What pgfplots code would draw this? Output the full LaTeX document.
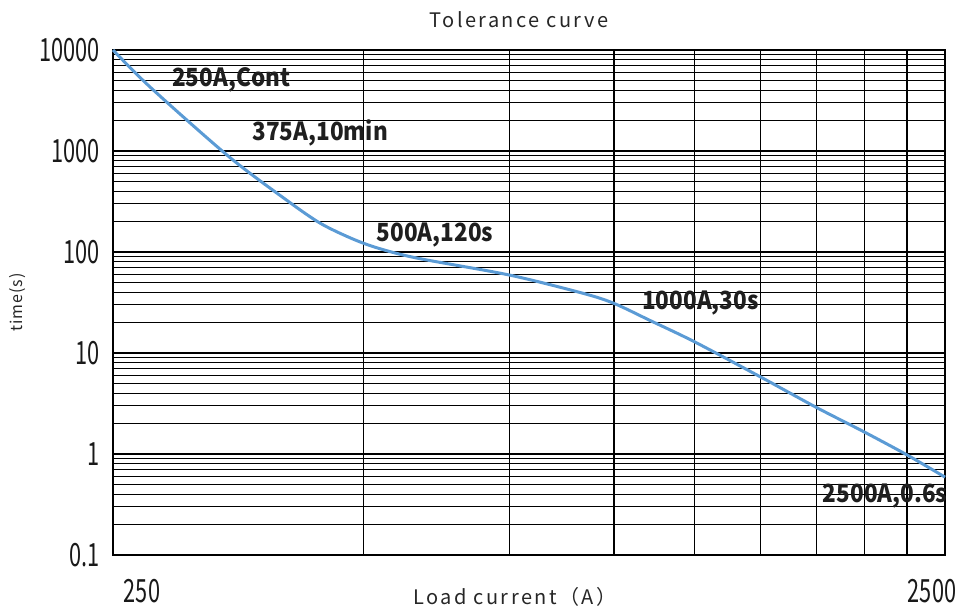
\documentclass[border=0pt]{standalone}
\usepackage{fontspec}
\usepackage{pgfplots}
\pgfplotsset{compat=1.18}
\setmainfont{Noto Sans CJK SC}
\newfontfamily\condfont[FakeStretch=0.68]{Noto Sans CJK SC}
\newfontfamily\annfont[FakeStretch=0.9]{Noto Sans CJK SC}
\newfontfamily\spacedfont[LetterSpace=12]{Noto Sans CJK SC}
\newfontfamily\smallspacedfont[LetterSpace=6]{Noto Sans CJK SC}
\definecolor{curveblue}{HTML}{5B9BD5}
\begin{document}
\begin{tikzpicture}
\begin{axis}[
  scale only axis,
  width=832bp, height=505bp,
  xmode=log, ymode=log,
  xmin=250, xmax=2500, ymin=0.1, ymax=10000,
  xtick={250,500,750,1000,1250,1500,1750,2000,2250,2500},
  xticklabels={},
  ytick={0.1,1,10,100,1000,10000},
  yticklabels={0.1,1,10,100,1000,10000},
  minor ytick={0.2,0.3,0.4,0.5,0.6,0.7,0.8,0.9,2,3,4,5,6,7,8,9,20,30,40,50,60,70,80,90,200,300,400,500,600,700,800,900,2000,3000,4000,5000,6000,7000,8000,9000},
  major tick length=0pt, minor tick length=0pt,
  xmajorgrids, ymajorgrids, yminorgrids,
  grid style={black, line width=1.1bp},
  major grid style={black, line width=1.1bp},
  minor grid style={black, line width=1.1bp},
  axis line style={black, line width=1.3bp},
  yticklabel style={font=\condfont\fontsize{32bp}{33bp}\selectfont, xshift=-10bp, text=black!90},
  clip=false,
]
\addplot[curveblue, line width=3bp, smooth, tension=0.5] coordinates {
(250,10000) (277,4300) (345,871) (404,327) (443,194) (482,138) (519,110)
(580,87) (750,59) (918,39) (1000,31) (1105,21) (1250,12.9) (1500,5.8)
(1750,2.9) (2000,1.65) (2250,0.98) (2500,0.59)
};
\begin{scope}[every node/.style={font=\annfont\bfseries\fontsize{25bp}{26bp}\selectfont, text=black!88}]
\node at (rel axis cs:0.142,0.941) {250A,Cont};
\node at (rel axis cs:0.249,0.836) {375A,10min};
\node at (rel axis cs:0.387,0.634) {500A,120s};
\node at (rel axis cs:0.706,0.499) {1000A,30s};
\node at (rel axis cs:0.928,0.117) {2500A,0.6s};
\end{scope}
\node[font=\condfont\fontsize{32bp}{33bp}\selectfont, text=black!90] at (rel axis cs:0,0) [xshift=29bp, yshift=-36bp] {250};
\node[font=\condfont\fontsize{32bp}{33bp}\selectfont, text=black!90] at (rel axis cs:1,0) [xshift=-13bp, yshift=-36bp] {2500};
\node[font=\spacedfont\fontsize{20bp}{22bp}\selectfont, text=black!85] at (rel axis cs:0.483,0) [yshift=-42bp] {Load current（A）};
\node[font=\spacedfont\fontsize{20bp}{22bp}\selectfont, text=black!85] at (rel axis cs:0.488,1) [yshift=30bp] {Tolerance curve};
\end{axis}
\node[font=\smallspacedfont\fontsize{16bp}{18bp}\selectfont, text=black!85, rotate=90] at ([xshift=-95bp]current axis.west) {time(s)};
\pgfresetboundingbox
\path[use as bounding box] (current axis.south west) ++(-113bp,-55bp) rectangle ([xshift=33bp,yshift=50bp]current axis.north east);
\end{tikzpicture}
\end{document}
